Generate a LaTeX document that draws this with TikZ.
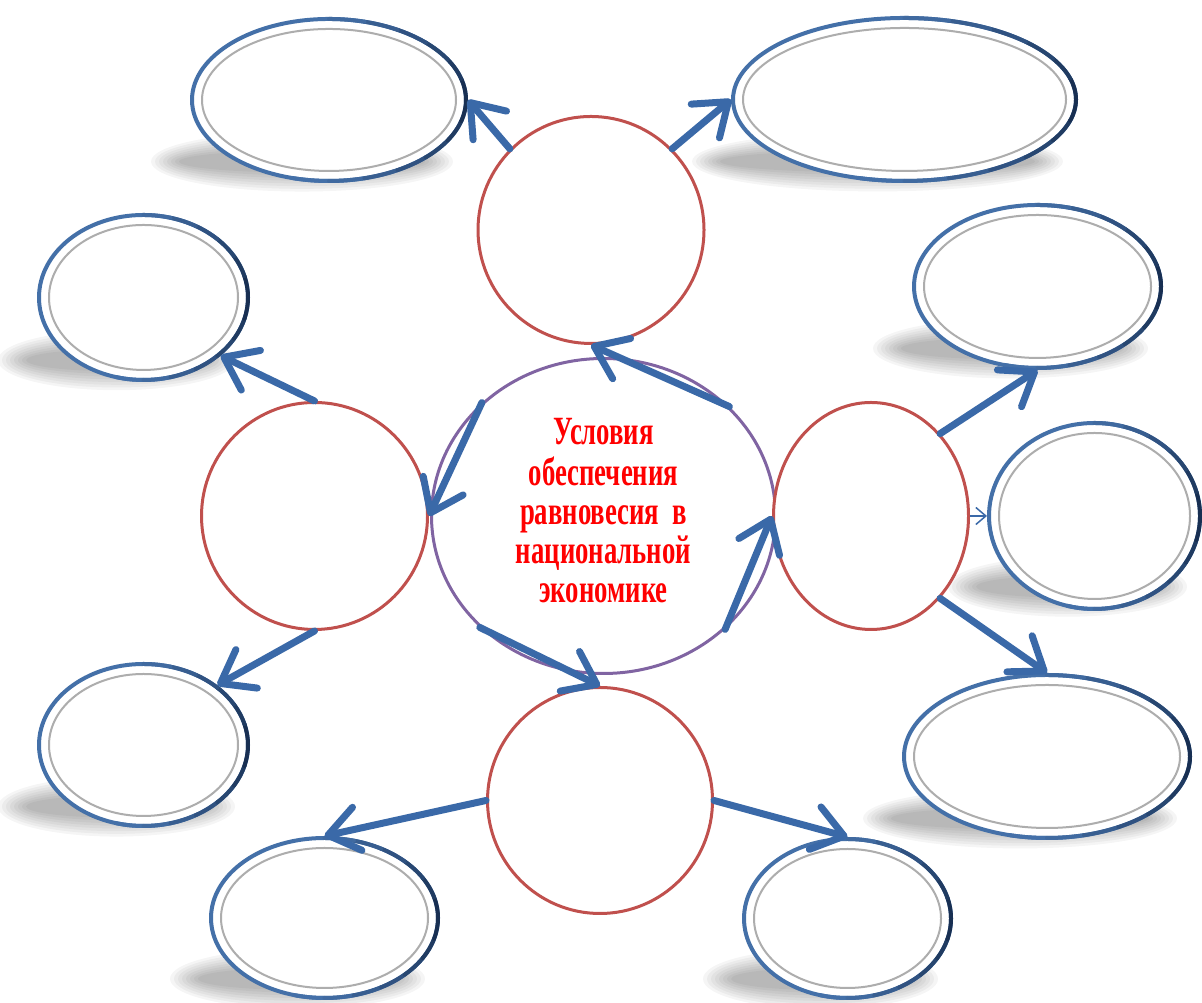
\documentclass[tikz,border=0pt]{standalone}
\usepackage{fontspec}
\setmainfont{Liberation Serif}
\usepackage{graphicx}
\usetikzlibrary{shapes.geometric,arrows.meta}

\definecolor{ringblue}{HTML}{4470A8}
\definecolor{ringnavy}{HTML}{14294A}
\definecolor{hubpurple}{HTML}{8064A2}
\definecolor{satred}{HTML}{C0504D}
\definecolor{arrowblue}{HTML}{3A69A8}

\tikzset{
  bubble/.style={ellipse, draw=ringblue, line width=0.04cm, fill=white, inner sep=0pt},
  innerring/.style={draw=black!32, line width=0.02cm},
  hub/.style={ellipse, draw=hubpurple, line width=0.03cm, fill=white, inner sep=0pt,
    minimum width=3.44cm, minimum height=3.15cm},
  sat/.style={ellipse, draw=satred, line width=0.03cm, fill=white, inner sep=0pt},
  fatarrow/.style={draw=arrowblue, line width=0.07cm, line cap=round,
    -{Straight Barb[length=0.3cm, width=0.44cm, round]}},
  thinarrow/.style={draw=arrowblue, line width=0.015cm,
    -{Straight Barb[length=0.1cm, width=0.17cm]}},
}

% outer bubbles: name/x/y/width/height
\def\bubbles{tl/3.29/9.03/2.74/1.62, tr/9.045/9.035/3.43/1.63,
  lu/1.435/7.055/2.09/1.65, ru/10.375/7.165/2.47/1.63,
  rm/10.945/4.87/2.11/1.86, ll/1.435/2.58/2.09/1.62,
  rl/10.47/2.465/2.86/1.63, bl/3.245/0.85/2.27/1.60,
  br/8.475/0.845/2.07/1.59}

\begin{document}
\begin{tikzpicture}
  \useasboundingbox (0,0) rectangle (12.02,10.03);

  % soft shadows under the bubbles
  \foreach \n/\x/\y/\w/\h in \bubbles
    \foreach \k in {0,...,7}
      \fill[black, opacity=0.04] (\x-0.27,\y-0.38*\h)
        ellipse [x radius={\w/2+0.14-0.04*\k}, y radius={0.3-0.027*\k}];

  % bubbles, darker on the right, with inner grey ring
  \foreach \n/\x/\y/\w/\h in \bubbles {
    \node[bubble, minimum width=\w cm, minimum height=\h cm] (\n) at (\x,\y) {};
    \foreach \a in {-105,-90,...,75} {
      \pgfmathtruncatemacro\p{max(0,100-abs(\a+7.5)*1.1)}
      \draw[draw=ringnavy!\p!ringblue, line width=0.04cm, line cap=round]
        (\n.center) ++(\a:{\w/2} and {\h/2})
        arc [start angle=\a, end angle=\a+15, x radius=\w/2, y radius=\h/2];
    }
    \draw[innerring] (\n.center) ellipse [x radius=\w/2-0.1, y radius=\h/2-0.1];
  }

  % hub and the four red circles
  \node[hub, text=red, font=\bfseries\fontsize{7.6}{7.4}\selectfont] (hub) at (6.035,4.87)
    {\scalebox{1}[1.5]{\begin{tabular}{@{}c@{}}Условия\\обеспечения\\равновесия\ \ в\\национальной\\экономике\end{tabular}}};
  \node[sat, minimum width=2.26cm, minimum height=2.27cm] (top) at (5.91,7.73) {};
  \node[sat, minimum width=2.26cm, minimum height=2.27cm] (lft) at (3.145,4.87) {};
  \node[sat, minimum width=1.95cm, minimum height=2.27cm] (rgt) at (8.71,4.87) {};
  \node[sat, minimum width=2.25cm, minimum height=2.26cm] (bot) at (6.00,2.025) {};

  % connectors
  \draw[fatarrow] (top.135) -- (tl.east);
  \draw[fatarrow] (top.45) -- (tr.west);
  \draw[fatarrow] (hub.41) -- (top.south);
  \draw[fatarrow] (hub.137) -- (lft.east);
  \draw[fatarrow] (lft.north) -- (lu.-37);
  \draw[fatarrow] (lft.south) -- (ll.39);
  \draw[fatarrow] (hub.222) -- (bot.north);
  \draw[fatarrow] (hub.-43) -- (rgt.west);
  \draw[fatarrow] (rgt.50) -- (ru.south);
  \draw[thinarrow] (rgt.east) -- (rm.west);
  \draw[fatarrow] (rgt.-50) -- (rl.north);
  \draw[fatarrow] (bot.west) -- (bl.north);
  \draw[fatarrow] (bot.east) -- (br.north);
\end{tikzpicture}
\end{document}
